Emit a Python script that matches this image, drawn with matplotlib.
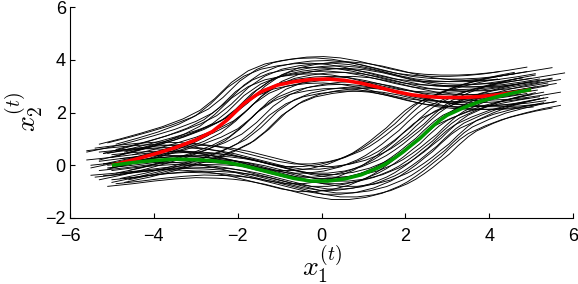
import numpy as np
import matplotlib
matplotlib.use("Agg")
import matplotlib.pyplot as plt

# Trajektoria "gorna" (czerwona) i "dolna" (zielona)
red_x = [-6.2, -5.6, -5.0, -4.5, -4.0, -3.5, -3.0, -2.6, -2.25, -1.85, -1.45, -1.05, -0.65,
         -0.25, 0.15, 0.55, 0.95, 1.35, 1.75, 2.15, 2.55, 2.95, 3.35, 3.75, 4.15, 4.55,
         5.0, 5.5, 6.0, 6.5]
red_y = [-0.40, -0.20, 0.00, 0.20, 0.42, 0.66, 0.96, 1.28, 1.72, 2.34, 2.78, 3.04, 3.17,
         3.25, 3.27, 3.22, 3.11, 2.96, 2.80, 2.67, 2.60, 2.57, 2.57, 2.60, 2.66, 2.75,
         2.87, 3.00, 3.10, 3.15]

green_x = [-6.2, -5.6, -5.0, -4.5, -4.0, -3.5, -3.0, -2.6, -2.25, -1.85, -1.45, -1.05, -0.65,
           -0.25, 0.15, 0.55, 0.95, 1.35, 1.55, 1.75, 1.95, 2.15, 2.35, 2.55, 2.8, 3.0,
           3.4, 3.8, 4.2, 4.6, 5.0, 5.5, 6.0, 6.5]
green_y = [-0.18, -0.10, 0.00, 0.10, 0.18, 0.23, 0.21, 0.17, 0.10, -0.02, -0.18, -0.34, -0.50,
           -0.60, -0.60, -0.52, -0.36, -0.10, 0.07, 0.28, 0.51, 0.77, 1.02, 1.33, 1.68, 1.90,
           2.19, 2.43, 2.60, 2.75, 2.87, 3.00, 3.10, 3.18]

# zakres rysowanych trajektorii (czesc widoczna na wykresie)
base_lo, base_hi = -5.0, 5.0

# Probki (czarne) - przesuniecia wzgledem trajektorii bazowych
upper_dx = [-0.3, -0.1, 0.0, -0.4, 0.1, -0.2, 0.2, 0.0, 0.3, -0.3, 0.4, 0.1,
            0.5, 0.2, 0.6, -0.1, 0.4, 0.7, 0.3, 0.8, 0.9, 0.6, 1.0, 0.5]
upper_dy = [0.80, 0.85, 0.70, 0.60, 0.60, 0.45, 0.40, 0.30, 0.50, 0.20, 0.25, 0.10,
            0.40, -0.05, 0.10, -0.15, -0.20, -0.10, -0.35, -0.30, -0.45, -0.45, -0.35, 0.65]
upper_start = [-5.5, -5.1, -5.6, -5.3, -4.9, -5.7, -5.0, -5.4, -4.8, -5.6, -5.2, -5.5,
               -4.9, -5.3, -5.0, -5.6, -5.1, -4.9, -5.4, -5.0, -4.8, -5.2, -4.9, -5.3]
upper_end = [4.5, 5.0, 5.5, 4.6, 5.3, 4.8, 5.6, 5.1, 5.8, 4.7, 5.4, 5.2,
             5.7, 4.9, 5.5, 5.0, 5.3, 5.8, 5.1, 5.6, 5.4, 5.2, 5.7, 4.6]

lower_dx = [-0.8, -0.6, -0.5, -0.4, -0.3, -0.2, -0.1, 0.0, 0.0, 0.1, 0.1, 0.2,
            0.2, 0.3, 0.3, 0.4, 0.4, 0.5, 0.5, 0.6, 0.7, 0.7, -0.6, -0.3]
lower_dy = [0.40, 0.55, 0.30, 0.65, 0.15, 0.45, 0.00, 0.30, -0.20, 0.55, 0.10, -0.35,
            0.25, -0.10, -0.50, 0.15, -0.30, -0.70, 0.00, -0.45, -0.20, -0.60, -0.10, -0.40]
lower_start = [-5.4, -5.7, -5.2, -5.5, -5.6, -5.3, -5.0, -5.7, -5.4, -5.1, -5.5, -5.6,
               -5.2, -5.4, -5.1, -5.7, -5.3, -5.2, -5.5, -5.0, -5.6, -5.3, -5.4, -5.1]
lower_end = [4.6, 4.9, 5.2, 4.8, 5.5, 5.0, 5.3, 5.6, 5.1, 5.4, 5.7, 5.2,
             5.8, 5.5, 5.3, 5.6, 5.7, 5.8, 5.4, 5.6, 5.5, 5.7, 5.0, 5.3]

plt.rcParams["mathtext.fontset"] = "cm"
plt.rcParams["font.family"] = ["Liberation Sans", "DejaVu Sans"]

fig = plt.figure(figsize=(5.78, 2.84), dpi=100)
ax = fig.add_axes([70 / 578, 66 / 284, 503 / 578, 211 / 284])


def draw_samples(bx, by, dxs, dys, starts, ends):
    bx = np.array(bx)
    by = np.array(by)
    for dx, dy, x0, x1 in zip(dxs, dys, starts, ends):
        xs = bx + dx
        ys = by + dy
        m = (xs >= x0) & (xs <= x1)
        ax.plot(xs[m], ys[m], color="black", lw=0.65)


draw_samples(red_x, red_y, upper_dx, upper_dy, upper_start, upper_end)
draw_samples(green_x, green_y, lower_dx, lower_dy, lower_start, lower_end)

rx = np.array(red_x)
gx = np.array(green_x)
mr = (rx >= base_lo) & (rx <= base_hi)
mg = (gx >= base_lo) & (gx <= base_hi)
ax.plot(rx[mr], np.array(red_y)[mr], color="red", lw=2.6, solid_capstyle="butt")
ax.plot(gx[mg], np.array(green_y)[mg], color=(0.0, 0.6, 0.0), lw=2.6, solid_capstyle="butt")

ax.set_xlim(-6, 6)
ax.set_ylim(-2, 6)
ax.set_xticks([-6, -4, -2, 0, 2, 4, 6])
ax.set_yticks([-2, 0, 2, 4, 6])
ax.spines["top"].set_visible(False)
ax.spines["right"].set_visible(False)
for s in ("left", "bottom"):
    ax.spines[s].set_linewidth(0.8)
ax.tick_params(direction="in", length=3.5, width=0.8, labelsize=13)
ax.tick_params(axis="x", pad=7)
ax.tick_params(axis="y", pad=3)

ax.set_xlabel(r"$x_1^{(t)}$", fontsize=20, labelpad=-1)
ax.set_ylabel(r"$x_2^{(t)}$", fontsize=20, labelpad=0)

fig.savefig("out.png", dpi=100)
